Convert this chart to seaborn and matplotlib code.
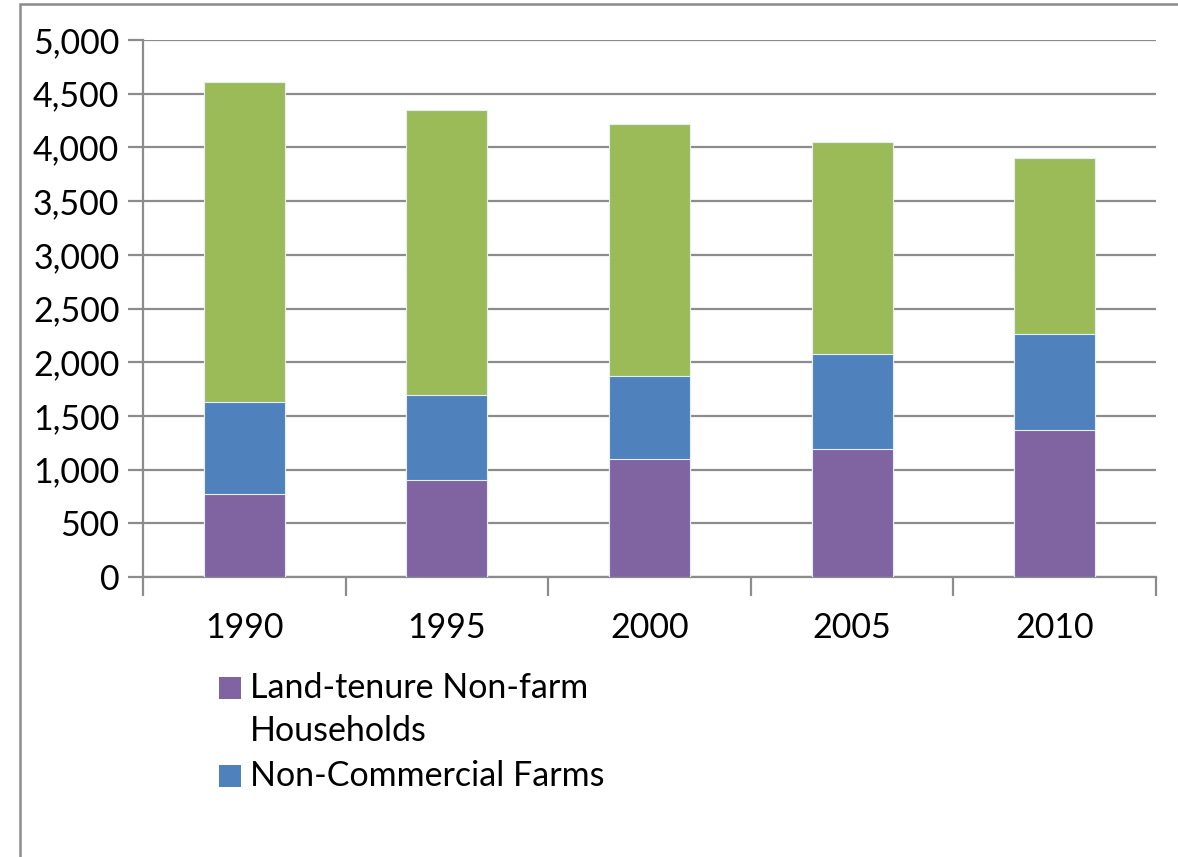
import matplotlib
matplotlib.use("Agg")
import matplotlib.pyplot as plt
from matplotlib.patches import Rectangle
from matplotlib.ticker import FuncFormatter, FixedLocator
import numpy as np
import pandas as pd
import seaborn as sns

years = ["1990", "1995", "2000", "2005", "2010"]
land_tenure_non_farm = [770, 900, 1095, 1195, 1370]
non_commercial_farms = [860, 790, 775, 880, 895]
commercial_farms = [2980, 2660, 2345, 1975, 1635]

series_names = ["Land-tenure Non-farm\nHouseholds", "Non-Commercial Farms", "Commercial Farms"]
colors = ["#8064A2", "#4F81BD", "#9BBB59"]

sns.set_theme(style="white")
plt.rcParams["font.family"] = ["Lato", "DejaVu Sans"]

FS = 24.5

df = pd.DataFrame({
    "year": years,
    "s1": land_tenure_non_farm,
    "s2": non_commercial_farms,
    "s3": commercial_farms,
})
df["c1"] = df["s1"]
df["c2"] = df["s1"] + df["s2"]
df["c3"] = df["c2"] + df["s3"]

fig = plt.figure(figsize=(11.78, 8.57), dpi=100)
ax = fig.add_axes([143 / 1178, 1 - 577 / 857, (1156 - 143) / 1178, (577 - 40) / 857])

# stacked bars: draw cumulative totals from the top segment down
for col, color in zip(["c3", "c2", "c1"], colors[::-1]):
    sns.barplot(data=df, x="year", y=col, color=color, width=0.4,
                saturation=1, ax=ax, edgecolor="#e8eef5", linewidth=0.8, zorder=3)

ax.set_xlim(-0.5, 4.5)
ax.set_ylim(0, 5000)
ax.set_yticks(np.arange(0, 5001, 500))
ax.yaxis.set_major_formatter(FuncFormatter(lambda v, p: f"{int(v):,}"))
ax.set_xlabel("")
ax.set_ylabel("")

grid_c = "#8c8c8c"
ax.grid(axis="y", color=grid_c, linewidth=1.6, zorder=0)
ax.set_axisbelow(True)
for side in ["top", "right"]:
    ax.spines[side].set_visible(False)
for side in ["left", "bottom"]:
    ax.spines[side].set_color(grid_c)
    ax.spines[side].set_linewidth(1.6)

ax.tick_params(axis="y", which="major", length=11, width=1.6, color=grid_c,
               labelsize=FS, labelcolor="black", pad=6, left=True)
ax.tick_params(axis="x", which="major", length=0, labelsize=FS, labelcolor="black", pad=25)
ax.xaxis.set_minor_locator(FixedLocator(np.arange(-0.5, 4.6, 1.0)))
ax.tick_params(axis="x", which="minor", length=14, width=1.6, color=grid_c, bottom=True)

# outer chart frame (top and left edges visible)
fig.patches.append(Rectangle((20 / 1178, -0.1), 1.2, 1.1 - 4 / 857,
                             transform=fig.transFigure, fill=False,
                             edgecolor="#8c8c8c", linewidth=1.8))

# legend below the plot
legend_items = [(series_names[0], colors[0], 688), (series_names[1], colors[1], 776)]
for label, color, ypix in legend_items:
    fig.patches.append(Rectangle((219 / 1178, 1 - (ypix + 11) / 857), 22 / 1178, 22 / 857,
                                 transform=fig.transFigure, facecolor=color,
                                 edgecolor="none"))
    fig.text(250 / 1178, 1 - (ypix - 16) / 857, label, fontsize=FS, va="top",
             ha="left", color="black", linespacing=1.42)

fig.savefig("out.png", dpi=100, facecolor="white")
